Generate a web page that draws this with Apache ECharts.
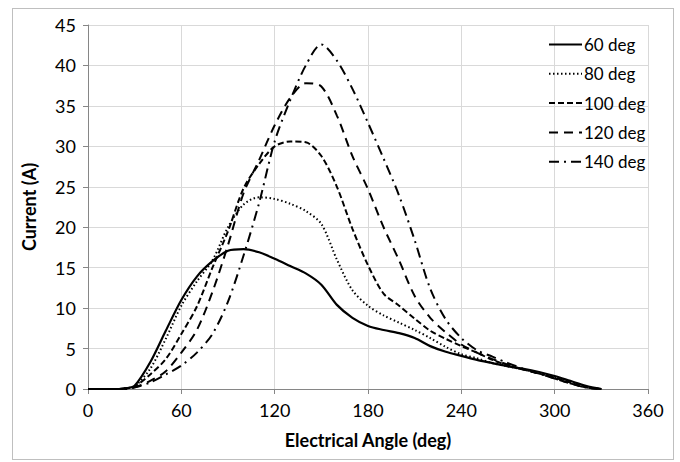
<!DOCTYPE html>
<html>
<head>
<meta charset="UTF-8" />
<script src="https://cdn.jsdelivr.net/npm/echarts@6/dist/echarts.min.js"></script>
<style>
  body { margin: 0; background: #fff; }
  #frame { position: absolute; left: 12px; top: 8px; width: 662px; height: 452px; border: 1px solid #bfbfbf; box-sizing: border-box; }
  #chart { position: absolute; left: 0; top: 0; width: 680px; height: 462px; }
</style>
</head>
<body>
<div id="frame"></div>
<div id="chart"></div>
<script>
  const angles = [0, 10, 20, 25, 30, 40, 50, 60, 70, 80, 90, 100, 110, 120, 130, 140, 150, 160, 170, 180,
    190, 200, 210, 220, 230, 240, 250, 260, 270, 280, 290, 300, 310, 320, 330];
  const names = ["60 deg", "80 deg", "100 deg", "120 deg", "140 deg"];
  const cur60 = [0, 0, 0, 0.1, 0.4, 3.3, 7.2, 11.0, 13.9, 15.8, 17.1, 17.3, 16.9, 16.1, 15.2, 14.3, 12.9, 10.4, 8.8, 7.8,
    7.3, 6.9, 6.3, 5.3, 4.6, 4.1, 3.6, 3.2, 2.8, 2.5, 2.1, 1.6, 1.0, 0.4, 0];
  const cur80 = [0, 0, 0, 0.1, 0.3, 2.5, 6.2, 10.3, 13.3, 15.9, 20.0, 22.8, 23.7, 23.5, 22.9, 22.0, 20.4, 16.0, 12.2, 10.3,
    9.1, 8.2, 7.3, 6.3, 5.2, 4.3, 3.8, 3.2, 2.8, 2.4, 2.0, 1.5, 0.9, 0.3, 0];
  const cur100 = [0, 0, 0, 0.1, 0.3, 1.8, 3.7, 6.8, 10.2, 15.0, 19.5, 24.8, 27.8, 30.0, 30.6, 30.5, 28.8, 25.0, 19.8, 15.3,
    11.8, 10.3, 8.7, 7.2, 6.2, 5.3, 4.5, 3.6, 2.9, 2.4, 1.9, 1.4, 0.8, 0.2, 0];
  const cur120 = [0, 0, 0, 0.1, 0.2, 1.0, 2.2, 4.5, 7.3, 12.0, 17.8, 24.2, 28.3, 32.6, 36.0, 37.8, 37.4, 33.8, 28.8, 24.7,
    20.0, 15.9, 11.5, 8.8, 7.0, 5.5, 4.5, 3.7, 3.0, 2.4, 1.9, 1.3, 0.7, 0.2, 0];
  const cur140 = [0, 0, 0, 0, 0.2, 0.8, 1.8, 2.9, 4.5, 6.8, 10.8, 16.5, 23.0, 30.6, 35.7, 40.0, 42.6, 40.6, 37.1, 32.9,
    28.5, 23.9, 18.4, 12.4, 8.6, 6.3, 4.8, 4.0, 3.2, 2.5, 1.9, 1.3, 0.7, 0.2, 0];
  const xTicks = [0, 60, 120, 180, 240, 300, 360];
  const yTicks = [0, 5, 10, 15, 20, 25, 30, 35, 40, 45];

  const allCurrents = [cur60, cur80, cur100, cur120, cur140];
  const dashTypes = ["solid", [1.5, 2.5], [6, 3], [9, 6], [10, 5, 2, 5]];
  const widths = [2.2, 2, 2, 2, 2];
  const font = "Lato, 'Liberation Sans', sans-serif";

  const chart = echarts.init(document.getElementById("chart"), null, { renderer: "svg" });

  const series = allCurrents.map((vals, i) => ({
    name: names[i],
    type: "line",
    data: angles.map((a, j) => [a, vals[j]]),
    smooth: 0.3,
    symbol: "none",
    lineStyle: { color: "#000", width: widths[i], type: dashTypes[i] },
    itemStyle: { color: "#000" },
  }));

  chart.setOption({
    animation: false,
    grid: { left: 88, right: 32, top: 25, bottom: 73 },
    legend: {
      orient: "vertical",
      left: 543,
      top: 31,
      itemWidth: 33,
      itemHeight: 14,
      itemGap: 12.3,
      itemStyle: { opacity: 0 },
      data: names,
      textStyle: { fontFamily: font, fontSize: 17, color: "#000", padding: [0, 0, 0, -3] },
    },
    xAxis: {
      type: "value",
      min: 0,
      max: 360,
      interval: 60,
      name: "Electrical Angle (deg)",
      nameLocation: "middle",
      nameGap: 42,
      nameTextStyle: { fontFamily: font, fontSize: 18, fontWeight: "bold", color: "#000" },
      axisLine: { lineStyle: { color: "#868686" } },
      axisTick: { show: true, length: 5, lineStyle: { color: "#868686" } },
      axisLabel: { fontFamily: font, fontSize: 18, color: "#000", margin: 12,
        formatter: (v) => (xTicks.includes(v) ? String(v) : "") },
      splitLine: { show: true, lineStyle: { color: "#d9d9d9" } },
    },
    yAxis: {
      type: "value",
      min: 0,
      max: 45,
      interval: 5,
      name: "Current (A)",
      nameLocation: "middle",
      nameGap: 50,
      nameTextStyle: { fontFamily: font, fontSize: 18, fontWeight: "bold", color: "#000" },
      axisLine: { show: true, lineStyle: { color: "#868686" } },
      axisTick: { show: true, length: 5, lineStyle: { color: "#868686" } },
      axisLabel: { fontFamily: font, fontSize: 18, color: "#000", margin: 12,
        formatter: (v) => (yTicks.includes(v) ? String(v) : "") },
      splitLine: { show: true, lineStyle: { color: "#d9d9d9" } },
    },
    series: series,
  });
</script>
</body>
</html>
